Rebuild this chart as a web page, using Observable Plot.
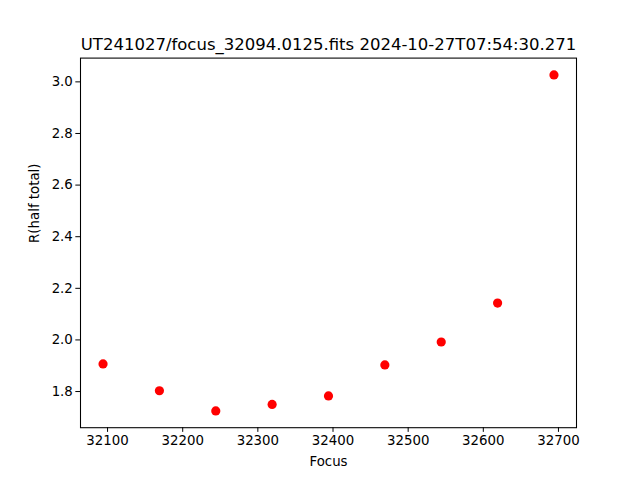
<!DOCTYPE html>
<html>
<head>
<meta charset="utf-8">
<script src="https://cdn.jsdelivr.net/npm/d3@7"></script>
<script src="https://cdn.jsdelivr.net/npm/@observablehq/plot@0.6"></script>
<style>
  html, body { margin: 0; padding: 0; background: #fff; }
</style>
</head>
<body>
<div id="chart"></div>
<script>
const titleText = "UT241027/focus_32094.0125.fits 2024-10-27T07:54:30.271";
const xLabel = "Focus";
const yLabel = "R(half total)";
const focus = [32094, 32169, 32244, 32319, 32394, 32469, 32544, 32619, 32694];
const rHalf = [1.907, 1.803, 1.725, 1.750, 1.783, 1.903, 1.992, 2.143, 3.027];
const xTicks = [32100, 32200, 32300, 32400, 32500, 32600, 32700];
const yTicks = [1.8, 2.0, 2.2, 2.4, 2.6, 2.8, 3.0];

const data = focus.map((f, i) => ({focus: f, r: rHalf[i]}));

const xMin = d3.min(focus), xMax = d3.max(focus);
const yMin = d3.min(rHalf), yMax = d3.max(rHalf);
const xPad = (xMax - xMin) * 0.05, yPad = (yMax - yMin) * 0.05;

const chart = Plot.plot({
  width: 640,
  height: 480,
  marginLeft: 80,
  marginRight: 64,
  marginTop: 57.6,
  marginBottom: 52.8,
  style: {fontFamily: "DejaVu Sans", fontSize: "13.33px", color: "black", background: "white"},
  x: {domain: [xMin - xPad, xMax + xPad]},
  y: {domain: [yMin - yPad, yMax + yPad]},
  marks: [
    Plot.axisX({ticks: xTicks, tickFormat: d3.format("d"), tickSize: 4.67, tickPadding: 3, label: null, fontSize: 13.33}),
    Plot.axisY({ticks: yTicks, tickFormat: d3.format(".1f"), tickSize: 4.67, tickPadding: 3, label: null, fontSize: 13.33}),
    Plot.frame({stroke: "black", strokeWidth: 1.07}),
    Plot.dot(data, {x: "focus", y: "r", r: 4.6, fill: "#ff0000", stroke: "none"}),
    Plot.text([titleText], {frameAnchor: "top", dy: -19.5, fontSize: 16.5, text: d => d, fill: "black"}),
    Plot.text([xLabel], {frameAnchor: "bottom", dy: 38, fontSize: 13.33, text: d => d, fill: "black"}),
    Plot.text([yLabel], {frameAnchor: "left", dx: -46, rotate: -90, fontSize: 13.33, text: d => d, fill: "black"})
  ]
});
document.getElementById("chart").appendChild(chart);
</script>
</body>
</html>
